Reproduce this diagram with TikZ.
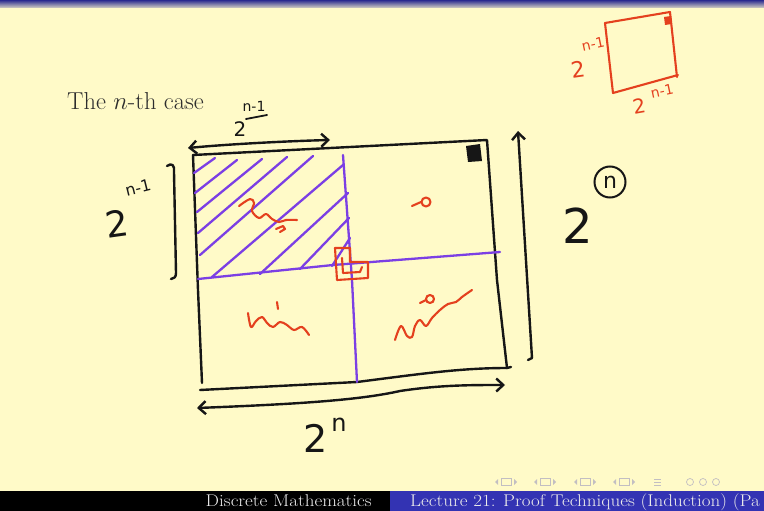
\documentclass[tikz,border=0pt]{standalone}
\usepackage{fontspec}
\usepackage{tikz}
\usetikzlibrary{arrows.meta,calc}
\newfontfamily\handfont{DejaVu Sans}
\definecolor{vpaper}{HTML}{FFFAC8}
\definecolor{vink}{HTML}{161616}
\definecolor{vviolet}{HTML}{7B3FE4}
\definecolor{vred}{HTML}{E4401E}
\definecolor{vblue}{HTML}{3333B3}
\tikzset{
  ink/.style={draw=vink,line width=2.4pt,line cap=round,line join=round},
  pen/.style={draw=vviolet,line width=2.3pt,line cap=round,line join=round},
  redpen/.style={draw=vred,line width=2.1pt,line cap=round,line join=round},
  harr/.style={ink,{Straight Barb[length=7pt,width=13pt]}-{Straight Barb[length=7pt,width=13pt]}},
  uparr/.style={ink,-{Straight Barb[length=7pt,width=13pt]}},
  hand/.style={text=vink,inner sep=0pt,font=\handfont},
  redhand/.style={text=vred,inner sep=0pt,font=\handfont},
  foot/.style={text=white!92!black,inner sep=0pt,font=\fontsize{17}{19}\selectfont},
  navc/.style={vblue!30!vpaper},
}

\begin{document}
\begin{tikzpicture}[x=1pt,y=-1pt]
  \useasboundingbox (0,0) rectangle (764,511);
  \fill[vpaper] (0,0) rectangle (764,511);
  % slide frame
  \shade[top color=vblue!80!black,bottom color=vblue!20!vpaper] (0,0) rectangle (764,8);
  \fill[black] (0,491) rectangle (390,511);
  \fill[vblue] (390,491) rectangle (764,511);
  \node[foot,anchor=base east] (ftitle) at (372,506) {\scalebox{1.12}[1]{Discrete Mathematics}};
  \node[foot,anchor=base west] (flect) at (410,506) {\scalebox{1.12}[1]{Lecture 21: Proof Techniques (Induction) (Pa}};
  \foreach \cx in {506,545,585,624}{
    \fill[navc] (\cx-11,482) -- (\cx-8,479) -- (\cx-8,485) -- cycle;
    \draw[navc,line width=0.7pt] (\cx-5,478.5) rectangle (\cx+5,485.5);
    \fill[navc] (\cx+11,482) -- (\cx+8,479) -- (\cx+8,485) -- cycle;
  }
  \foreach \yy in {479,482,485} \draw[navc,line width=0.8pt] (654,\yy) -- (661,\yy);
  \foreach \cx in {690,703,716} \draw[navc,line width=0.7pt] (\cx,482) circle (3.5);
  \node[anchor=base west,text=vink!90,inner sep=0pt,font=\fontsize{24.5}{28}\selectfont] (title) at (67,110) {The $n$-th case};

  % big board
  \coordinate (tl) at (193,155);
  \coordinate (tr) at (487,140);
  \coordinate (br) at (507,368);
  \coordinate (bl) at (202,383);
  \draw[ink] (tl) -- (tr) -- (497,280) -- (br) -- ++(4,-1);
  \draw[ink] (tl) -- (198,290) -- (bl);
  \draw[ink] (200,390) -- (357,382) .. controls (420,374) and (460,368) .. (br);
  \fill[vink] (466,146) -- (480,144) -- (482,161) -- (468,162) -- cycle;

  % quadrants
  \coordinate (vtop) at (343,155);
  \coordinate (vbot) at (357,382);
  \draw[pen] (vtop) -- (352,280) -- (vbot);
  \draw[pen] (198,279) -- (333,265) -- (500,252);
  \foreach \xa/\ya/\xb/\yb in {194/173/215/158, 195/193/237/160, 197/212/262/159,
      198/233/287/157, 200/255/313/156, 212/277/343/165, 260/274/348/193,
      300/269/349/218, 332/266/350/238}
    \draw[pen] (\xa,\ya) -- (\xb,\yb);

  % tromino in the middle
  \draw[redpen] (335,248) -- (350,248) -- (350,262) -- (368,262) -- (368,278) -- (337,280) -- cycle;
  \draw[redpen] (342,258) -- (343,273) -- (360,272) -- (362,267);

  % scribbles
  \draw[redpen] plot[smooth,tension=0.6] coordinates {(239,206) (250,199) (254,203) (252,211) (259,218) (266,214) (272,219) (279,222) (286,220) (297,220)};
  \draw[redpen] (276,229) -- (283,226) -- (285,229) -- (280,232);
  \draw[redpen] (412,206) -- (421,202);
  \draw[redpen] (426,202) circle (4.5);
  \draw[redpen] plot[smooth,tension=0.6] coordinates {(248,313) (251,327) (256,321) (262,317) (267,323) (273,327) (280,322) (287,325) (294,330) (302,327) (309,335)};
  \draw[redpen] (277,302) -- (278,309);
  \draw[redpen] plot[smooth,tension=0.6] coordinates {(395,340) (401,326) (407,336) (412,337) (415,326) (420,320) (426,326) (432,318) (440,310) (448,304) (456,302) (462,297) (472,290)};
  \draw[redpen] (420,303) -- (426,300);
  \draw[redpen] (430,299) circle (4);

  % measures
  \coordinate (wl) at (188,148);
  \coordinate (wr) at (330,140);
  \draw[harr] (wl) .. controls (230,144) and (290,141) .. (wr);
  \node[hand,font=\handfont\fontsize{20}{22}\selectfont] (wbase) at (240,129) {2};
  \node[hand,font=\handfont\fontsize{14}{16}\selectfont] (wexp) at (254,106) {n-1};
  \draw[ink,line width=1.8pt] (246,119) -- (267,115);

  \draw[ink] (167,166) .. controls (172,162) and (175,166) .. (174,172) -- (176,273) .. controls (176,277) and (174,279) .. (171,279);
  \node[hand,font=\handfont\fontsize{36}{40}\selectfont,rotate=8] (hbase) at (117,224) {2};
  \node[hand,font=\handfont\fontsize{16}{18}\selectfont,rotate=14] (hexp) at (138,188) {n-1};

  \coordinate (rb) at (532,358);
  \coordinate (rt) at (518,131);
  \draw[uparr] (rb) -- (rt);
  \draw[ink] (rb) -- ++(-4,2);
  \node[hand,font=\handfont\fontsize{48}{52}\selectfont] (rbase) at (578,226) {2};
  \node[hand,circle,draw=vink,line width=2pt,minimum size=31pt,font=\handfont\fontsize{22}{24}\selectfont] (rexp) at (610,182) {n};

  \coordinate (bl2) at (197,408);
  \coordinate (br2) at (505,385);
  \draw[harr] (bl2) .. controls (300,404) and (360,400) .. (400,391) .. controls (440,385) and (470,385) .. (br2);
  \node[hand,font=\handfont\fontsize{38}{42}\selectfont] (bbase) at (316,438) {2};
  \node[hand,font=\handfont\fontsize{24}{26}\selectfont] (bexp) at (339,425) {n};

  % small board, top right
  \draw[redpen] (605,23) -- (670,12) -- (677,77);
  \draw[redpen] (605,23) -- (613,93) -- (678,75);
  \fill[vred] (664,17) -- (671,16) -- (672,24) -- (665,25) -- cycle;
  \node[redhand,font=\handfont\fontsize{22}{24}\selectfont,rotate=8] (sbase) at (578,69) {2};
  \node[redhand,font=\handfont\fontsize{14}{16}\selectfont,rotate=12] (sexp) at (593,44) {n-1};
  \node[redhand,font=\handfont\fontsize{20}{22}\selectfont,rotate=10] (tbase) at (639,106) {2};
  \node[redhand,font=\handfont\fontsize{14}{16}\selectfont,rotate=12] (texp) at (662,91) {n-1};
\end{tikzpicture}
\end{document}
